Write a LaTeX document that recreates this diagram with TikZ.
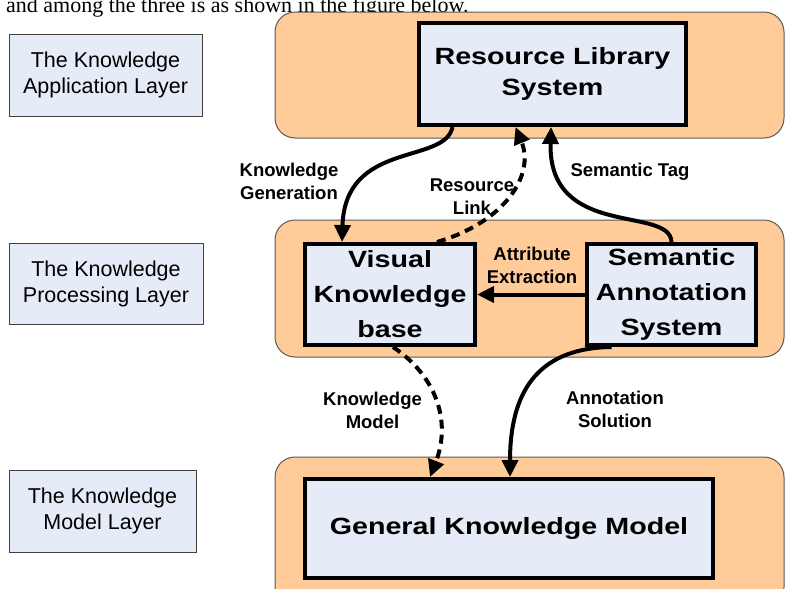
\documentclass[tikz,border=0pt]{standalone}
\usepackage{fontspec}
\setmainfont{Liberation Sans}
\newfontfamily\serifcut{Liberation Serif}
\newfontfamily\widebf{Liberation Sans}[FakeStretch=1.22]
\usetikzlibrary{arrows.meta}
\definecolor{layerfill}{RGB}{255,204,153}
\definecolor{boxfill}{RGB}{230,236,247}
\definecolor{layerdraw}{RGB}{90,90,90}
\begin{document}
\begin{tikzpicture}[x=1pt,y=-1pt,
 layer/.style={draw=layerdraw, line width=1pt, fill=layerfill, rounded corners=20pt, inner sep=0pt},
 sysbox/.style={draw=black, line width=4pt, fill=boxfill, inner sep=0pt, align=center, font=\widebf\bfseries\fontsize{23.5}{35}\selectfont},
 lbl/.style={draw=black!75, line width=0.8pt, fill=boxfill, align=center, inner sep=0pt, font=\fontsize{21.5}{26.5}\selectfont},
 elab/.style={align=center, inner sep=0pt, font=\bfseries\fontsize{18.5}{23}\selectfont},
 conn/.style={line width=4pt, -{Triangle[length=17pt,width=16pt]}},
 dconn/.style={conn, dash pattern=on 9pt off 6pt}
]
\useasboundingbox (0,0) rectangle (785,589);
\fill[white] (0,0) rectangle (785,589);

% cut caption line of surrounding text
\node[anchor=base west, inner sep=0pt, font=\serifcut\fontsize{22}{26}\selectfont] (caption) at (6,12.5) {and among the three is as shown in the figure below.};

% layers
\node[layer, minimum width=509pt, minimum height=126pt] (toplayer) at (529.5,75) {};
\node[layer, minimum width=509pt, minimum height=137pt] (midlayer) at (529.5,288.5) {};
\node[layer, minimum width=509pt, minimum height=150pt] (botlayer) at (529.5,532) {};

% left labels
\node[lbl, minimum width=193pt, minimum height=82pt] (lapp) at (105.5,75) {The Knowledge\\Application Layer};
\node[lbl, minimum width=194pt, minimum height=81pt] (lproc) at (106,284) {The Knowledge\\Processing Layer};
\node[lbl, minimum width=187pt, minimum height=82pt] (lmod) at (102.5,511) {The Knowledge\\Model Layer};

% system boxes
\node[sysbox, minimum width=267pt, minimum height=102pt, font=\widebf\bfseries\fontsize{23.5}{31.6}\selectfont] (rls) at (552.5,74) {Resource Library\\System};
\node[sysbox, minimum width=170pt, minimum height=101pt] (vkb) at (390,294.5) {Visual\\Knowledge\\base};
\node[sysbox, minimum width=169pt, minimum height=101pt] (sas) at (671.5,294.5) {Semantic\\Annotation\\System};
\node[sysbox, minimum width=408pt, minimum height=99pt] (gkm) at (509,528.5) {General Knowledge Model};

% connectors
\draw[conn] ([xshift=-100pt]rls.south) .. controls (445,165) and (345,140) .. ([xshift=-48pt]vkb.north);
\draw[dconn] ([xshift=47pt]vkb.north) .. controls (505,222) and (535,175) .. ([xshift=-37pt]rls.south);
\draw[conn] (sas.north) .. controls (670,205) and (548,240) .. ([xshift=-1.5pt]rls.south);
\draw[conn] (sas.west) -- (vkb.east);
\draw[dconn] ([xshift=3pt]vkb.south) .. controls (435,375) and (452,420) .. ([xshift=-79pt]gkm.north);
\draw[conn] ([xshift=-60pt]sas.south) .. controls (535,348) and (510,395) .. ([xshift=1pt]gkm.north);

% edge labels
\node[elab] (lkg) at (289,181) {Knowledge\\Generation};
\node[elab] (lrl) at (472,197) {Resource\\Link};
\node[elab] (lst) at (630,172) {Semantic Tag};
\node[elab] (lae) at (532,265.5) {Attribute\\Extraction};
\node[elab] (lkm) at (372.5,410) {Knowledge\\Model};
\node[elab] (las) at (615,409.5) {Annotation\\Solution};
\end{tikzpicture}
\end{document}
